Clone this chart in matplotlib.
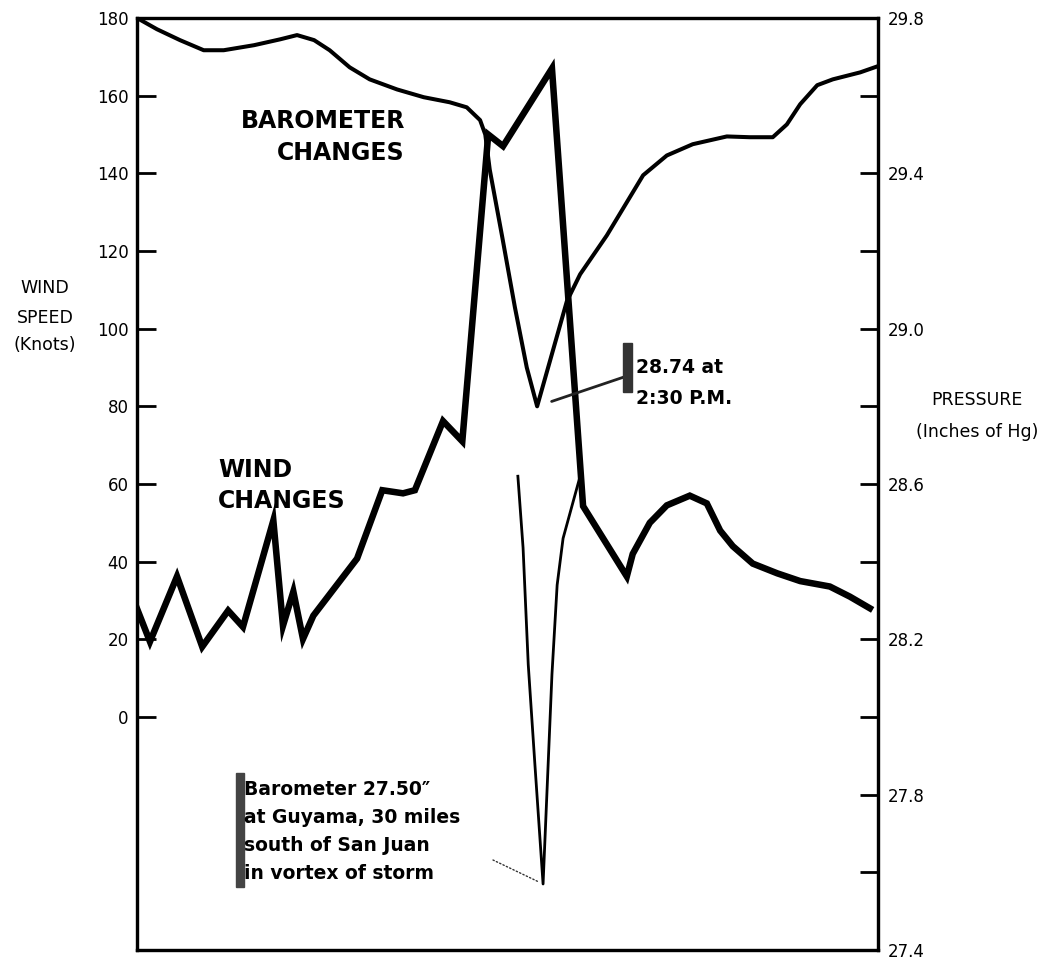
import matplotlib
matplotlib.use('Agg')
import matplotlib.pyplot as plt
import numpy as np
from matplotlib.patches import Rectangle

# time axis is not labelled in the original, so it runs 0..100 across the frame
wind_t = [0.0, 1.75, 5.4, 8.8, 12.3, 14.3, 18.4, 19.7, 21.1, 22.4, 23.8, 29.7, 33.1,
          35.9, 37.5, 41.3, 43.9, 47.4, 49.4, 56.0, 60.2, 66.1, 66.9, 69.2, 71.5,
          74.6, 76.9, 78.7, 80.4, 83.1, 86.4, 89.5, 93.5, 96.2, 98.9]
wind_kt = [27.9, 19.4, 36.2, 18.1, 27.4, 23.2, 50.6, 23.5, 32.3, 20.1, 26.1, 40.8, 58.4,
           57.6, 58.4, 76.2, 71.0, 150, 147, 167, 54.3, 36.2, 42, 50, 54.5,
           57, 55, 48, 44, 39.5, 37, 35, 33.6, 31, 28]

baro_t = [0.0, 2.7, 5.8, 9.0, 11.7, 15.8, 19.3, 21.6, 23.9, 26.0, 28.7, 31.4, 35.1,
          38.7, 42.2, 44.5, 46.3, 47.0, 47.6, 49.3, 51.0, 52.6, 54.0, 58.0, 59.8,
          63.4, 68.3, 71.5, 75.0, 79.6, 82.7, 85.8, 87.7, 89.5, 91.8, 93.9, 97.6, 100.0]
baro_in = [29.80, 29.771, 29.743, 29.717, 29.717, 29.73, 29.745, 29.756, 29.743, 29.717,
           29.673, 29.642, 29.616, 29.596, 29.583, 29.57, 29.537, 29.50, 29.41, 29.235,
           29.055, 28.90, 28.80, 29.07, 29.14, 29.24, 29.395, 29.446, 29.475, 29.495,
           29.493, 29.493, 29.526, 29.578, 29.627, 29.642, 29.66, 29.676]

# Guyama barometer trace
guyama_t = [51.4, 52.1, 52.8, 53.7, 54.8, 56.0, 56.7, 57.5, 59.8]
guyama_in = [28.62, 28.436, 28.135, 27.877, 27.57, 28.11, 28.34, 28.46, 28.62]

wind_ticks = np.arange(0, 181, 20)
pres_ticks = np.round(np.arange(27.4, 29.81, 0.2), 1)
pres_labels = ['%.1f' % p if round((p - 27.4) * 10) % 4 == 0 else '' for p in pres_ticks]

W, H = 1046, 959
fig = plt.figure(figsize=(W / 100, H / 100), dpi=100)
ax = fig.add_axes([137 / W, 1 - 950 / H, 741 / W, 932 / H])
ax2 = ax.twinx()

ax.set_xlim(0, 100)
ax.set_ylim(-60, 180)
ax2.set_ylim(27.4, 29.8)

ax.plot(wind_t, wind_kt, color='black', lw=4.7, solid_joinstyle='miter')
ax2.plot(baro_t, baro_in, color='black', lw=2.9)
ax2.plot(guyama_t, guyama_in, color='black', lw=2.0)

for a in (ax, ax2):
    for s in a.spines.values():
        s.set_linewidth(2.3)

ax.set_xticks([])
ax.set_yticks(wind_ticks)
ax.set_yticklabels([str(v) for v in wind_ticks])
ax.tick_params(axis='y', direction='in', length=14, width=2, labelsize=12, pad=6)
ax2.set_yticks(pres_ticks)
ax2.set_yticklabels(pres_labels)
ax2.tick_params(axis='y', direction='in', length=13, width=2, labelsize=12, pad=7)


def put(x, y, s, **kw):
    fig.text(x / W, 1 - y / H, s, va='baseline', **kw)


# axis titles
for y, s in zip([293, 323, 350], ['WIND', 'SPEED', '(Knots)']):
    put(45, y, s, ha='center', fontsize=12.5)
for y, s in zip([405, 437], ['PRESSURE', '(Inches of Hg)']):
    put(977, y, s, ha='center', fontsize=12.5)

# curve labels
for y, s in zip([128, 160], ['BAROMETER', 'CHANGES']):
    put(405, y, s, ha='right', fontsize=17, fontweight='bold')
for y, s in zip([477, 508], ['WIND', 'CHANGES']):
    put(218, y, s, ha='left', fontsize=17, fontweight='bold')

# notes
for y, s in zip([373, 404], ['28.74 at', '2:30 P.M.']):
    put(636, y, s, ha='left', fontsize=13.5, fontweight='bold')
for y, s in zip([795, 823, 851, 879],
                ['Barometer 27.50\u2033', 'at Guyama, 30 miles',
                 'south of San Juan', 'in vortex of storm']):
    put(244, y, s, ha='left', fontsize=13.5, fontweight='bold')

# pasted-in label edges from the scan
fig.patches.append(Rectangle((623 / W, 1 - 392 / H), 9 / W, 49 / H,
                             transform=fig.transFigure, color='#333333'))
fig.patches.append(Rectangle((236 / W, 1 - 887 / H), 8 / W, 114 / H,
                             transform=fig.transFigure, color='#444444'))

# leader lines
imin = int(np.argmin(baro_in))
ax2.annotate('', xy=(baro_t[imin], baro_in[imin]), xytext=(624, H - 377),
             textcoords='figure pixels',
             arrowprops=dict(arrowstyle='-', lw=2, color='#222222', shrinkA=0, shrinkB=11))
gmin = int(np.argmin(guyama_in))
ax2.annotate('', xy=(guyama_t[gmin], guyama_in[gmin]), xytext=(493, H - 860),
             textcoords='figure pixels',
             arrowprops=dict(arrowstyle='-', lw=1, ls=':', color='#333333', shrinkA=0, shrinkB=4))

fig.savefig('out.png', dpi=100)
